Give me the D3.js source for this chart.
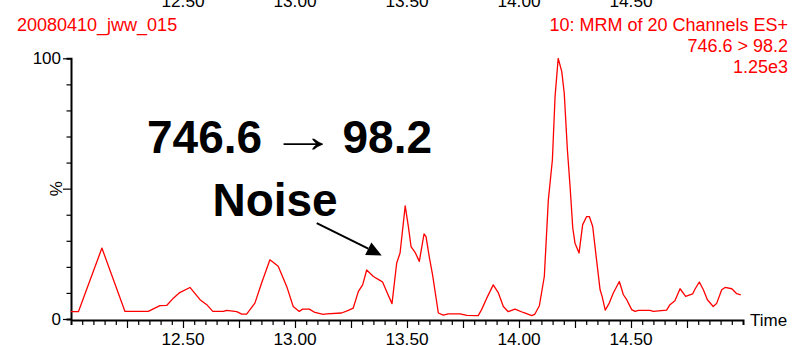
<!DOCTYPE html>
<html>
<head>
<meta charset="utf-8">
<script src="https://cdn.jsdelivr.net/npm/d3@7"></script>
<style>
  html, body { margin: 0; padding: 0; background: #fff; }
  svg { display: block; font-family: "Liberation Sans", Arial, sans-serif; }
</style>
</head>
<body>
<svg id="chart" width="792" height="345"></svg>
<script>
// Chromatogram trace: retention time (min) and relative intensity (%)
const times = [
  12.000, 12.033, 12.138, 12.241, 12.345, 12.397, 12.427, 12.457, 12.483, 12.531,
  12.576, 12.606, 12.633, 12.680, 12.695, 12.740, 12.762, 12.784, 12.821, 12.851,
  12.888, 12.925, 12.963, 12.992, 13.019, 13.034, 13.064, 13.089, 13.126, 13.141,
  13.208, 13.238, 13.260, 13.283, 13.302, 13.320, 13.350, 13.379, 13.391, 13.412,
  13.433, 13.454, 13.469, 13.492, 13.506, 13.518, 13.536, 13.555, 13.576, 13.585,
  13.600, 13.614, 13.640, 13.662, 13.684, 13.737, 13.767, 13.818, 13.833, 13.856,
  13.885, 13.908, 13.930, 13.952, 13.982, 14.019, 14.057, 14.071, 14.091, 14.113,
  14.131, 14.149, 14.161, 14.175, 14.191, 14.202, 14.216, 14.228, 14.240, 14.250,
  14.268, 14.284, 14.302, 14.314, 14.329, 14.344, 14.362, 14.371, 14.385, 14.403,
  14.421, 14.448, 14.466, 14.481, 14.503, 14.518, 14.533, 14.585, 14.600, 14.659,
  14.674, 14.696, 14.719, 14.744, 14.775, 14.786, 14.805, 14.823, 14.841, 14.867,
  14.882, 14.905, 14.920, 14.950, 14.972, 14.990
];
const intensity = [
  2.8, 2.8, 27.2, 2.9, 2.9, 5.1, 5.2, 8.0, 10.0, 12.1,
  7.4, 5.5, 2.9, 2.9, 3.3, 2.8, 1.9, 1.9, 6.1, 13.8,
  22.7, 20.2, 12.5, 4.8, 2.9, 3.8, 3.8, 2.5, 1.8, 2.0,
  2.3, 3.3, 4.2, 10.6, 13.1, 18.8, 16.3, 14.8, 14.2, 10.0,
  5.9, 21.5, 25.3, 43.4, 35.5, 27.8, 25.6, 22.1, 32.6, 31.6,
  23.5, 17.0, 2.3, 1.5, 2.0, 2.0, 1.4, 1.3, 3.6, 8.0,
  13.1, 10.0, 4.8, 2.8, 3.8, 2.5, 1.3, 1.9, 5.1, 16.3,
  45.7, 61.0, 85.3, 100.0, 94.9, 86.6, 64.9, 50.8, 34.9, 29.1,
  25.3, 36.1, 39.3, 39.3, 35.5, 24.3, 11.2, 8.7, 3.4, 6.1,
  10.0, 14.4, 9.3, 7.4, 3.6, 2.9, 3.3, 3.3, 2.9, 3.4,
  5.5, 7.0, 11.6, 8.7, 9.6, 11.5, 14.2, 11.2, 7.4, 4.8,
  5.9, 11.2, 12.1, 11.6, 9.7, 9.3
];

// Axis ticks and labels
const timeLabels = [12.5, 13.0, 13.5, 14.0, 14.5];
const percentLabels = [0, 100];
const headerLeft = "20080410_jww_015";
const headerRight = ["10: MRM of 20 Channels ES+", "746.6 > 98.2", "1.25e3"];
const precursor = "746.6";
const product = "98.2";
const noiseTitle = "Noise";

const svg = d3.select("#chart");
const x = d3.scaleLinear().domain([12, 15]).range([71, 743]);
const y = d3.scaleLinear().domain([0, 100]).range([319, 58.3]);
const red = "#ff0000";

// Minor ticks every 0.05 min, longer ones on quarter minutes
const xTicks = d3.range(241, 300).map(i => i / 20);
const isQuarter = v => Math.abs(v * 4 - Math.round(v * 4)) < 1e-6;

const xAxis = svg.append("g")
  .attr("transform", "translate(0,320)")
  .call(d3.axisBottom(x).tickValues(xTicks).tickSizeOuter(0).tickSize(5).tickFormat(""));
xAxis.select(".domain").attr("stroke", "#000").attr("stroke-width", 2);
xAxis.selectAll(".tick line")
  .attr("stroke", "#000").attr("stroke-width", 1.2)
  .attr("y2", d => isQuarter(d) ? 8 : 5);
xAxis.selectAll(".tick text").remove();

// Bottom time labels
svg.append("g").selectAll("text")
  .data(timeLabels).join("text")
  .attr("x", d => x(d)).attr("y", 344.5)
  .attr("text-anchor", "middle")
  .attr("font-size", 17.3).attr("fill", "#000")
  .text(d => d3.format(".2f")(d));

// Labels of the panel above, clipped at the top edge
svg.append("g").selectAll("text")
  .data(timeLabels).join("text")
  .attr("x", d => x(d)).attr("y", 6.5)
  .attr("text-anchor", "middle")
  .attr("font-size", 17.3).attr("fill", "#000")
  .text(d => d3.format(".2f")(d));

svg.append("text")
  .attr("x", 750).attr("y", 325.5)
  .attr("font-size", 17).attr("fill", "#000")
  .text("Time");

// Y axis
const yTicks = d3.range(0, 101, 10);
const yAxis = svg.append("g")
  .attr("transform", "translate(71,0)")
  .call(d3.axisLeft(y).tickValues(yTicks).tickSizeOuter(0).tickSize(4.5).tickFormat(""));
yAxis.select(".domain").attr("stroke", "#000").attr("stroke-width", 2);
yAxis.selectAll(".tick line")
  .attr("stroke", "#000").attr("stroke-width", 1.2)
  .attr("x2", d => d % 50 === 0 ? -8 : -4.5);
yAxis.selectAll(".tick text").remove();

svg.append("g").selectAll("text")
  .data(percentLabels).join("text")
  .attr("x", 61).attr("y", d => y(d))
  .attr("dy", "0.36em")
  .attr("text-anchor", "end")
  .attr("font-size", 17).attr("fill", "#000")
  .text(d => d);

svg.append("text")
  .attr("transform", `translate(61.5,${y(50)}) rotate(-90)`)
  .attr("text-anchor", "middle")
  .attr("font-size", 17).attr("fill", "#000")
  .text("%");

// Header texts
svg.append("text")
  .attr("x", 17).attr("y", 30.5)
  .attr("font-size", 18).attr("fill", red)
  .text(headerLeft);

svg.append("g").selectAll("text")
  .data(headerRight).join("text")
  .attr("x", 788).attr("y", (d, i) => 30.5 + i * 21)
  .attr("text-anchor", "end")
  .attr("font-size", 18).attr("fill", red)
  .text(d => d);

// Chromatogram trace
const line = d3.line()
  .x((d, i) => x(times[i]))
  .y(d => y(d));
svg.append("path")
  .datum(intensity)
  .attr("fill", "none")
  .attr("stroke", red)
  .attr("stroke-width", 1.3)
  .attr("stroke-linejoin", "round")
  .attr("d", line);

// Transition title: precursor, thin arrow, product
const titleY = y(63.5);
const titleG = svg.append("g").attr("font-size", 46).attr("fill", "#000");
titleG.append("text").attr("x", 147).attr("y", titleY)
  .attr("font-weight", "bold").text(precursor);
titleG.append("text").attr("x", 432).attr("y", titleY)
  .attr("font-weight", "bold").attr("text-anchor", "end").text(product);
titleG.append("text")
  .attr("transform", `translate(303.5,${titleY - 1.5}) scale(1.45,1)`)
  .attr("text-anchor", "middle")
  .attr("font-weight", "normal")
  .text("\u2192");

svg.append("text")
  .attr("x", x(12.911)).attr("y", y(39.4))
  .attr("text-anchor", "middle")
  .attr("font-size", 46).attr("font-weight", "bold").attr("fill", "#000")
  .text(noiseTitle);

// Arrow pointing at the noise cluster
const start = [x(13.097), y(36.8)];
const tip = [x(13.387), y(24.4)];
const dx = tip[0] - start[0], dy = tip[1] - start[1];
const len = Math.hypot(dx, dy);
const ux = dx / len, uy = dy / len;
const headLen = 15, headHalf = 7;
const base = [tip[0] - ux * headLen, tip[1] - uy * headLen];
svg.append("line")
  .attr("x1", start[0]).attr("y1", start[1])
  .attr("x2", base[0]).attr("y2", base[1])
  .attr("stroke", "#000").attr("stroke-width", 2);
svg.append("path")
  .attr("d", d3.line()([
    tip,
    [base[0] - uy * headHalf, base[1] + ux * headHalf],
    [base[0] + uy * headHalf, base[1] - ux * headHalf]
  ]) + "Z")
  .attr("fill", "#000");
</script>
</body>
</html>
